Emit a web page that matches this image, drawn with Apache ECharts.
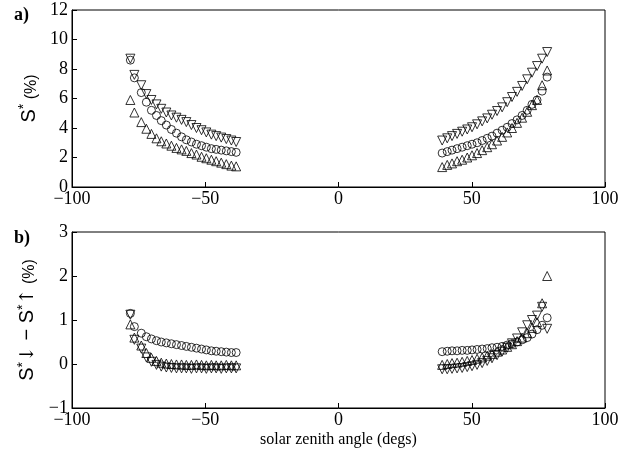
<!DOCTYPE html>
<html>
<head>
<meta charset="utf-8">
<script src="https://cdn.jsdelivr.net/npm/echarts@6/dist/echarts.min.js"></script>
<style>
  html, body { margin: 0; padding: 0; background: #fff; }
  #chart { width: 625px; height: 452px; }
</style>
</head>
<body>
<div id="chart"></div>
<script>
// solar zenith angles (degs), morning (negative) and afternoon
const anglesAM = [-78.1, -76.6, -74.0, -72.1, -70.2, -68.3, -66.5, -64.6, -62.7, -60.8, -58.9,
  -57.1, -55.2, -53.3, -51.4, -49.6, -47.7, -45.9, -44.0, -42.1, -40.2, -38.4]
const anglesPM = [38.9, 40.8, 42.6, 44.5, 46.4, 48.3, 50.1, 52.0, 53.9, 55.8, 57.6,
  59.5, 61.4, 63.3, 65.1, 67.0, 68.9, 70.8, 72.6, 74.5, 76.4, 78.3]

// panel a) S* (%)
const topDownAM = [8.7, 7.6, 6.9, 6.3, 5.9, 5.6, 5.3, 5.05, 4.85, 4.7, 4.55,
  4.4, 4.2, 4.0, 3.85, 3.7, 3.55, 3.45, 3.35, 3.25, 3.15, 3.05]
const topCircAM = [8.6, 7.4, 6.4, 5.75, 5.2, 4.85, 4.5, 4.2, 3.9, 3.65, 3.4,
  3.2, 3.05, 2.9, 2.8, 2.7, 2.6, 2.55, 2.5, 2.45, 2.4, 2.35]
const topUpAM = [5.9, 5.05, 4.4, 3.95, 3.6, 3.3, 3.1, 2.95, 2.8, 2.65, 2.55,
  2.45, 2.3, 2.2, 2.05, 1.95, 1.85, 1.75, 1.65, 1.55, 1.45, 1.4]
const topDownPM = [3.15, 3.3, 3.45, 3.6, 3.75, 3.9, 4.05, 4.25, 4.45, 4.65, 4.9,
  5.15, 5.4, 5.75, 6.1, 6.45, 6.85, 7.3, 7.75, 8.2, 8.7, 9.15]
const topCircPM = [2.3, 2.4, 2.5, 2.6, 2.7, 2.8, 2.9, 3.0, 3.15, 3.3, 3.45,
  3.65, 3.85, 4.05, 4.3, 4.55, 4.85, 5.2, 5.6, 5.9, 6.5, 7.45]
const topUpPM = [1.35, 1.5, 1.6, 1.75, 1.85, 2.0, 2.15, 2.3, 2.5, 2.7, 2.9,
  3.15, 3.4, 3.7, 4.0, 4.35, 4.7, 5.1, 5.55, 5.9, 6.9, 7.9]

// panel b) S*down - S*up (%)
const botDownAM = [1.12, 0.55, 0.35, 0.15, 0.05, -0.02, -0.06, -0.08, -0.09, -0.1, -0.1,
  -0.1, -0.11, -0.1, -0.1, -0.11, -0.1, -0.1, -0.11, -0.1, -0.1, -0.1]
const botCircAM = [1.15, 0.85, 0.7, 0.62, 0.57, 0.53, 0.5, 0.48, 0.46, 0.44, 0.42,
  0.4, 0.38, 0.36, 0.34, 0.32, 0.3, 0.29, 0.28, 0.27, 0.26, 0.26]
const botUpAM = [0.9, 0.6, 0.42, 0.25, 0.14, 0.07, 0.03, 0.01, 0.0, -0.01, -0.01,
  -0.02, -0.02, -0.01, -0.02, -0.03, -0.02, -0.03, -0.03, -0.02, -0.03, -0.03]
const botDownPM = [-0.12, -0.12, -0.11, -0.1, -0.09, -0.07, -0.05, -0.02, 0.02, 0.07, 0.13,
  0.2, 0.28, 0.37, 0.47, 0.58, 0.72, 0.88, 1.0, 1.1, 1.3, 0.8]
const botCircPM = [0.28, 0.29, 0.3, 0.3, 0.31, 0.31, 0.32, 0.33, 0.34, 0.35, 0.37,
  0.38, 0.4, 0.43, 0.46, 0.5, 0.55, 0.6, 0.68, 0.78, 0.88, 1.05]
const botUpPM = [-0.02, 0.0, 0.02, 0.03, 0.05, 0.07, 0.09, 0.12, 0.15, 0.19, 0.23,
  0.28, 0.33, 0.39, 0.45, 0.52, 0.6, 0.7, 0.82, 0.95, 1.38, 2.0]

const xTicks = [-100, -50, 0, 50, 100]

const serif = 'Liberation Serif'
const sans = 'Liberation Sans'

function pairs(am, pm, vAM, vPM) {
  return am.map((x, i) => [x, vAM[i]]).concat(pm.map((x, i) => [x, vPM[i]]))
}
function minus(v) {
  return String(v).replace('-', '\u2212')
}

const markStyle = {color: 'transparent', borderColor: '#000', borderWidth: 1}

function scatter(grid, symbol, data) {
  return {
    type: 'scatter',
    xAxisIndex: grid,
    yAxisIndex: grid,
    symbol: symbol === 'down' ? 'triangle' : symbol,
    symbolRotate: symbol === 'down' ? 180 : 0,
    symbolSize: symbol === 'circle' ? 8 : 9,
    itemStyle: markStyle,
    emphasis: {disabled: true},
    silent: true,
    data: data,
  }
}

function xAxis(grid, name) {
  return {
    gridIndex: grid,
    type: 'value',
    min: xTicks[0],
    max: xTicks[xTicks.length - 1],
    interval: 50,
    name: name,
    nameLocation: 'middle',
    nameGap: 24,
    nameTextStyle: {fontFamily: serif, fontSize: 16, color: '#000'},
    axisLine: {onZero: false, lineStyle: {color: '#000', width: 1}},
    axisTick: {inside: true, length: 5, lineStyle: {color: '#000'}},
    axisLabel: {
      fontFamily: serif, fontSize: 18, color: '#000', margin: 3,
      showMinLabel: true, showMaxLabel: true,
      formatter: minus,
    },
    splitLine: {show: false},
  }
}

// rotated axis title, tokens bottom aligned so the * sits raised
const nameRich = {
  s: {fontFamily: sans, fontSize: 20, color: '#000', verticalAlign: 'bottom'},
  sup: {fontFamily: sans, fontSize: 14, color: '#000', verticalAlign: 'bottom', padding: [0, 0, 8, 0]},
  p: {fontFamily: sans, fontSize: 16, color: '#000', verticalAlign: 'bottom'},
  a: {fontFamily: 'DejaVu Serif', fontSize: 19, color: '#000', verticalAlign: 'bottom'},
}

function yAxis(grid, min, max, interval, name, gap) {
  return {
    gridIndex: grid,
    type: 'value',
    min: min,
    max: max,
    interval: interval,
    name: name,
    nameLocation: 'middle',
    nameRotate: 90,
    nameGap: gap,
    nameTextStyle: {fontFamily: sans, fontSize: 18, color: '#000', rich: nameRich},
    axisLine: {onZero: false, lineStyle: {color: '#000', width: 1}},
    axisTick: {inside: true, length: 5, lineStyle: {color: '#000'}},
    axisLabel: {fontFamily: serif, fontSize: 18, color: '#000', margin: 4, formatter: minus},
    splitLine: {show: false},
  }
}

const chart = echarts.init(document.getElementById('chart'), null, {renderer: 'canvas'})

chart.setOption({
  backgroundColor: '#ffffff',
  animation: false,
  grid: [
    {left: 72, top: 10, width: 533, height: 177, show: true, borderColor: '#000', borderWidth: 1, backgroundColor: 'transparent'},
    {left: 72, top: 232, width: 533, height: 176, show: true, borderColor: '#000', borderWidth: 1, backgroundColor: 'transparent'},
  ],
  xAxis: [xAxis(0, ''), xAxis(1, 'solar zenith angle (degs)')],
  yAxis: [
    yAxis(0, 0, 12, 2, '{s|S}{sup|*}{p| (%)}', 32),
    yAxis(1, -1, 3, 1, '{s|S}{sup|*}{a|\u2193}{s| \u2212 S}{sup|*}{a|\u2191}{p| (%)}', 32),
  ],
  graphic: [
    {type: 'text', left: 14, top: 6, style: {text: 'a)', font: 'bold 18px "Liberation Serif"', fill: '#000'}},
    {type: 'text', left: 14, top: 229, style: {text: 'b)', font: 'bold 18px "Liberation Serif"', fill: '#000'}},
  ],
  series: [
    scatter(0, 'down', pairs(anglesAM, anglesPM, topDownAM, topDownPM)),
    scatter(0, 'circle', pairs(anglesAM, anglesPM, topCircAM, topCircPM)),
    scatter(0, 'triangle', pairs(anglesAM, anglesPM, topUpAM, topUpPM)),
    scatter(1, 'down', pairs(anglesAM, anglesPM, botDownAM, botDownPM)),
    scatter(1, 'circle', pairs(anglesAM, anglesPM, botCircAM, botCircPM)),
    scatter(1, 'triangle', pairs(anglesAM, anglesPM, botUpAM, botUpPM)),
  ],
})
</script>
</body>
</html>
